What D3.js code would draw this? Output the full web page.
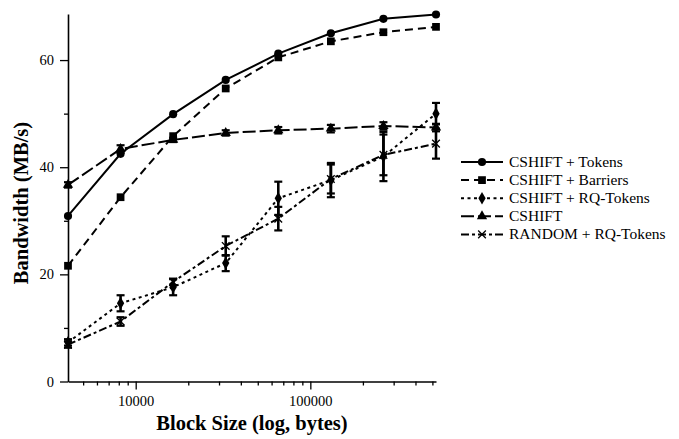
<!DOCTYPE html>
<html>
<head>
<meta charset="utf-8">
<script src="https://cdn.jsdelivr.net/npm/d3@7"></script>
<style>
  html, body { margin: 0; padding: 0; background: #ffffff; }
  text { font-family: "Liberation Serif", "Times New Roman", serif; fill: #000; }
</style>
</head>
<body>
<script>
'use strict';

// block sizes (bytes) on the log x axis
const blockSizes = [4096, 8192, 16384, 32768, 65536, 131072, 262144, 524288];

// bandwidth in MB/s
const tokens     = [30.9, 42.5, 49.9, 56.3, 61.2, 65.0, 67.7, 68.5];
const barriers   = [21.6, 34.4, 45.8, 54.7, 60.5, 63.5, 65.2, 66.2];
const rqTokens   = [7.3, 14.6, 17.6, 22.1, 34.2, 37.6, 42.0, 50.0];
const rqTokensErr = [0.6, 1.5, 1.5, 1.5, 3.1, 3.2, 4.6, 2.0];
const cshift     = [36.7, 43.4, 45.1, 46.4, 46.9, 47.2, 47.7, 47.4];
const cshiftErr  = [0.5, 0.7, 0.4, 0.5, 0.6, 0.7, 0.7, 0.7];
const random     = [6.9, 11.2, 18.6, 25.3, 30.4, 37.8, 42.3, 44.4];
const randomErr  = [0.6, 0.8, 0.6, 1.8, 2.2, 2.7, 3.8, 2.8];

const seriesNames = ['CSHIFT + Tokens', 'CSHIFT + Barriers', 'CSHIFT + RQ-Tokens', 'CSHIFT', 'RANDOM + RQ-Tokens'];

const yMajorTicks = [0, 20, 40, 60];
const yMinorTicks = [10, 30, 50];
const xMajorTicks = [10000, 100000];
const xMinorTicks = [5000, 6000, 7000, 8000, 9000,
  20000, 30000, 40000, 50000, 60000, 70000, 80000, 90000,
  200000, 300000, 400000, 500000];

const W = 679, H = 439;
const svg = d3.select('body').append('svg')
  .attr('xmlns', 'http://www.w3.org/2000/svg')
  .attr('width', W).attr('height', H)
  .attr('viewBox', `0 0 ${W} ${H}`);
svg.append('rect').attr('width', W).attr('height', H).attr('fill', '#ffffff');

const x = d3.scaleLog().domain([4096, 524288]).range([68, 436]);
const y = d3.scaleLinear().domain([0, 68.6]).range([381.5, 14]);

// series styling: dash pattern + marker
const series = [
  { name: seriesNames[0], values: tokens,   err: null,        dash: null,      symbol: d3.symbolCircle,   size: 52, fill: true },
  { name: seriesNames[1], values: barriers, err: null,        dash: '8,5',     symbol: d3.symbolSquare,   size: 60, fill: true },
  { name: seriesNames[2], values: rqTokens, err: rqTokensErr, dash: '3,3.5',   symbol: d3.symbolDiamond,  size: 46, fill: true },
  { name: seriesNames[3], values: cshift,   err: cshiftErr,   dash: '13,4',    symbol: d3.symbolTriangle, size: 46, fill: true },
  { name: seriesNames[4], values: random,   err: randomErr,   dash: '8,3,3,3', symbol: d3.symbolTimes,    size: 40, fill: false }
];

// ---- axes ----
function styleAxis(g) {
  g.selectAll('.domain').attr('stroke', '#000').attr('stroke-width', 1.6);
  g.selectAll('.tick line').attr('stroke', '#000').attr('stroke-width', 1.3);
  g.selectAll('.tick text')
    .attr('font-family', '"Liberation Serif", "Times New Roman", serif')
    .attr('font-size', 14.5).attr('fill', '#000');
}

svg.append('g').attr('transform', `translate(0,${y(0)})`)
  .call(d3.axisBottom(x).tickValues(xMinorTicks).tickSize(4).tickSizeOuter(0).tickFormat(''))
  .call(styleAxis);
svg.append('g').attr('transform', `translate(0,${y(0)})`)
  .call(d3.axisBottom(x).tickValues(xMajorTicks).tickSize(8).tickSizeOuter(0).tickPadding(6).tickFormat(d3.format('d')))
  .call(styleAxis)
  .call(g => g.select('.domain').remove());

svg.append('g').attr('transform', `translate(${x(4096)},0)`)
  .call(d3.axisLeft(y).tickValues(yMinorTicks).tickSize(4).tickSizeOuter(0).tickFormat(''))
  .call(styleAxis);
svg.append('g').attr('transform', `translate(${x(4096)},0)`)
  .call(d3.axisLeft(y).tickValues(yMajorTicks).tickSize(8).tickSizeOuter(0).tickPadding(6).tickFormat(d3.format('d')))
  .call(styleAxis)
  .call(g => g.select('.domain').remove());

// axis titles
svg.append('text')
  .attr('x', 252).attr('y', 430)
  .attr('text-anchor', 'middle')
  .attr('font-size', 20.5).attr('font-weight', 'bold')
  .text('Block Size (log, bytes)');
svg.append('text')
  .attr('transform', 'translate(27.5,203) rotate(-90)')
  .attr('text-anchor', 'middle')
  .attr('font-size', 20.5).attr('font-weight', 'bold')
  .text('Bandwidth (MB/s)');

// ---- lines, error bars, markers ----
const line = d3.line().x((d, i) => x(blockSizes[i])).y(d => y(d));

function drawMarker(g, s, cx, cy) {
  const p = g.append('path')
    .attr('d', d3.symbol().type(s.symbol).size(s.size)())
    .attr('transform', `translate(${cx},${cy})`);
  if (s.fill) p.attr('fill', '#000');
  else p.attr('fill', 'none').attr('stroke', '#000').attr('stroke-width', 1.3);
}

series.forEach(s => {
  const g = svg.append('g');
  g.append('path')
    .datum(s.values)
    .attr('d', line)
    .attr('fill', 'none')
    .attr('stroke', '#000')
    .attr('stroke-width', 2)
    .attr('stroke-dasharray', s.dash);

  if (s.err) {
    s.values.forEach((v, i) => {
      const cx = x(blockSizes[i]);
      const y1 = y(v - s.err[i]), y2 = y(v + s.err[i]);
      g.append('line').attr('x1', cx).attr('x2', cx).attr('y1', y1).attr('y2', y2)
        .attr('stroke', '#000').attr('stroke-width', 2.6);
      [y1, y2].forEach(yy => g.append('line')
        .attr('x1', cx - 4).attr('x2', cx + 4).attr('y1', yy).attr('y2', yy)
        .attr('stroke', '#000').attr('stroke-width', 2.2));
    });
  }

  s.values.forEach((v, i) => drawMarker(g, s, x(blockSizes[i]), y(v)));
});

// ---- legend ----
const legend = svg.append('g').attr('transform', 'translate(461,162)');
series.forEach((s, i) => {
  const row = legend.append('g').attr('transform', `translate(0,${i * 18.1})`);
  row.append('line')
    .attr('x1', 0).attr('x2', 42).attr('y1', 0).attr('y2', 0)
    .attr('stroke', '#000').attr('stroke-width', 2)
    .attr('stroke-dasharray', s.dash);
  drawMarker(row, s, 21, 0);
  row.append('text')
    .attr('x', 48).attr('y', 0).attr('dy', '0.32em')
    .attr('font-size', 15.5)
    .text(s.name);
});
</script>
</body>
</html>
